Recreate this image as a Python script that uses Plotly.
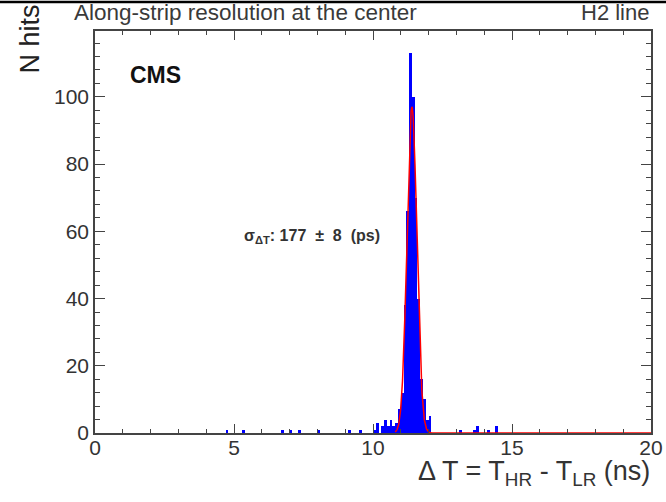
import numpy as np
import plotly.graph_objects as go

# ---- data ----
bin_width = 0.1  # ns
bin_low = [4.7, 5.3, 6.7, 7.0, 7.3, 8.0, 9.1, 9.5, 10.0, 10.1, 10.3, 10.4, 10.5, 10.6, 10.7,
           10.8, 10.9, 11.0, 11.1, 11.2, 11.3, 11.4, 11.5, 11.6, 11.7, 11.8, 11.9, 12.0,
           13.1, 13.6, 13.7, 14.1, 14.4]
counts = [1, 1, 1, 1, 1, 1, 1, 1, 1, 3, 2, 4, 2, 4, 2,
          3, 7, 12, 38, 66, 113, 100, 70, 40, 16, 10, 4, 5,
          1, 1, 2, 1, 2]

fit_mu = 11.40      # ns
fit_sigma = 0.177   # ns
fit_amp = 97.0      # counts
fit_range = [10.8, 20.0]

x_ticks = [0, 5, 10, 15, 20]
y_ticks = [0, 20, 40, 60, 80, 100]

bin_centers = [b + bin_width / 2 for b in bin_low]
fx = np.linspace(fit_range[0], fit_range[1], 1841)
fy = fit_amp * np.exp(-0.5 * ((fx - fit_mu) / fit_sigma) ** 2)

fig = go.Figure()
fig.add_trace(go.Bar(x=bin_centers, y=counts, width=bin_width,
                     marker=dict(color="#0000ff", line=dict(width=0)),
                     showlegend=False))
fig.add_trace(go.Scatter(x=fx, y=fy, mode="lines",
                         line=dict(color="#ff0000", width=1.5),
                         showlegend=False))

font = "Liberation Sans, Arial, sans-serif"
axcol = "#444444"
tfont = dict(family=font, size=21, color="#333333")

fig.update_layout(
    width=666, height=502,
    margin=dict(l=95, r=15, t=31, b=69, autoexpand=False),
    paper_bgcolor="white", plot_bgcolor="white",
    bargap=0,
    xaxis=dict(range=[0, 20], tickvals=x_ticks, ticks="inside", ticklen=9,
               tickcolor=axcol, tickwidth=1, showline=True, linecolor=axcol,
               linewidth=1.5, mirror="ticks", showgrid=False, zeroline=False,
               tickfont=tfont, automargin=False, ticklabelstandoff=-5,
               minor=dict(dtick=1, ticks="inside", ticklen=4, tickcolor=axcol,
                          showgrid=False)),
    yaxis=dict(range=[0, 119.6], tickvals=y_ticks, ticks="inside", ticklen=10,
               tickcolor=axcol, tickwidth=1, showline=True, linecolor=axcol,
               linewidth=1.5, mirror="ticks", showgrid=False, zeroline=False,
               tickfont=tfont, automargin=False,
               minor=dict(dtick=4, ticks="inside", ticklen=5, tickcolor=axcol,
                          showgrid=False)),
)

anns = [
    dict(text="Along-strip resolution at the center", x=-0.041, y=1.045,
         xanchor="left", yanchor="middle", font=dict(family=font, size=22.5, color="#3a3a3a")),
    dict(text="H2 line", x=1.0, y=1.045, xanchor="right", yanchor="middle",
         font=dict(family=font, size=22, color="#3a3a3a")),
    dict(text="N hits", x=-0.117, y=1.072, xanchor="center", yanchor="top",
         textangle=-90, font=dict(family=font, size=27, color="#222222")),
    dict(text="Δ T = T<sub>HR</sub> - T<sub>LR</sub> (ns)", x=1.002, y=-0.1,
         xanchor="right", yanchor="middle", font=dict(family=font, size=27, color="#333333")),
    dict(text="<b>CMS</b>", x=0.059, y=0.89, xanchor="left", yanchor="middle",
         font=dict(family=font, size=23, color="#111111")),
    dict(text="<b>σ<sub>ΔT</sub>: 177  ±  8  (ps)</b>", x=0.265, y=0.49,
         xanchor="left", yanchor="middle", font=dict(family=font, size=16, color="#333333")),
]
for a in anns:
    a.update(xref="paper", yref="paper", showarrow=False)
fig.update_layout(annotations=anns)

# thin border line at the very top of the image
fig.add_shape(type="line", xref="paper", yref="paper",
              x0=-95 / 556, x1=(666 - 95) / 556, y0=431 / 402, y1=431 / 402,
              line=dict(color="black", width=2.5), layer="above")

fig.write_html("out.html", config={"displayModeBar": False},
               post_script="document.body.style.margin='0px';document.body.style.padding='0px';")
